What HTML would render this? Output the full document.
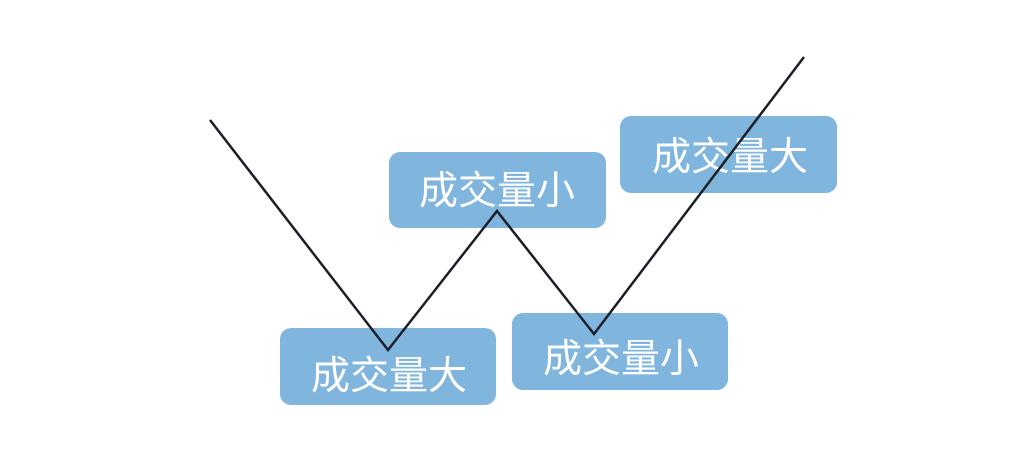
<!DOCTYPE html>
<html><head><meta charset="utf-8"><style>
html,body{margin:0;padding:0;background:#fff;}
</style></head><body>
<svg width="1009" height="474" xmlns="http://www.w3.org/2000/svg" style="display:block">
<rect width="1009" height="474" fill="#fff"/>
<g fill="#80b5dd">
<rect x="280" y="328" width="216" height="77" rx="11"/>
<rect x="389" y="152" width="217" height="76" rx="11"/>
<rect x="620" y="116" width="217" height="77" rx="11"/>
<rect x="512" y="313" width="216" height="77" rx="11"/>
</g>
<g font-family="Liberation Sans, Noto Sans CJK SC, sans-serif" font-size="39" fill="#fff" text-anchor="middle">
<text x="389" y="389">成交量大</text>
<text x="497" y="204">成交量小</text>
<text x="730" y="170">成交量大</text>
<text x="621" y="372">成交量小</text>
</g>
<polyline points="210,120 388,350 497,211 594,334 804,57" fill="none" stroke="#1a1f28" stroke-width="2.5" stroke-linejoin="miter"/>
</svg>
</body></html>
